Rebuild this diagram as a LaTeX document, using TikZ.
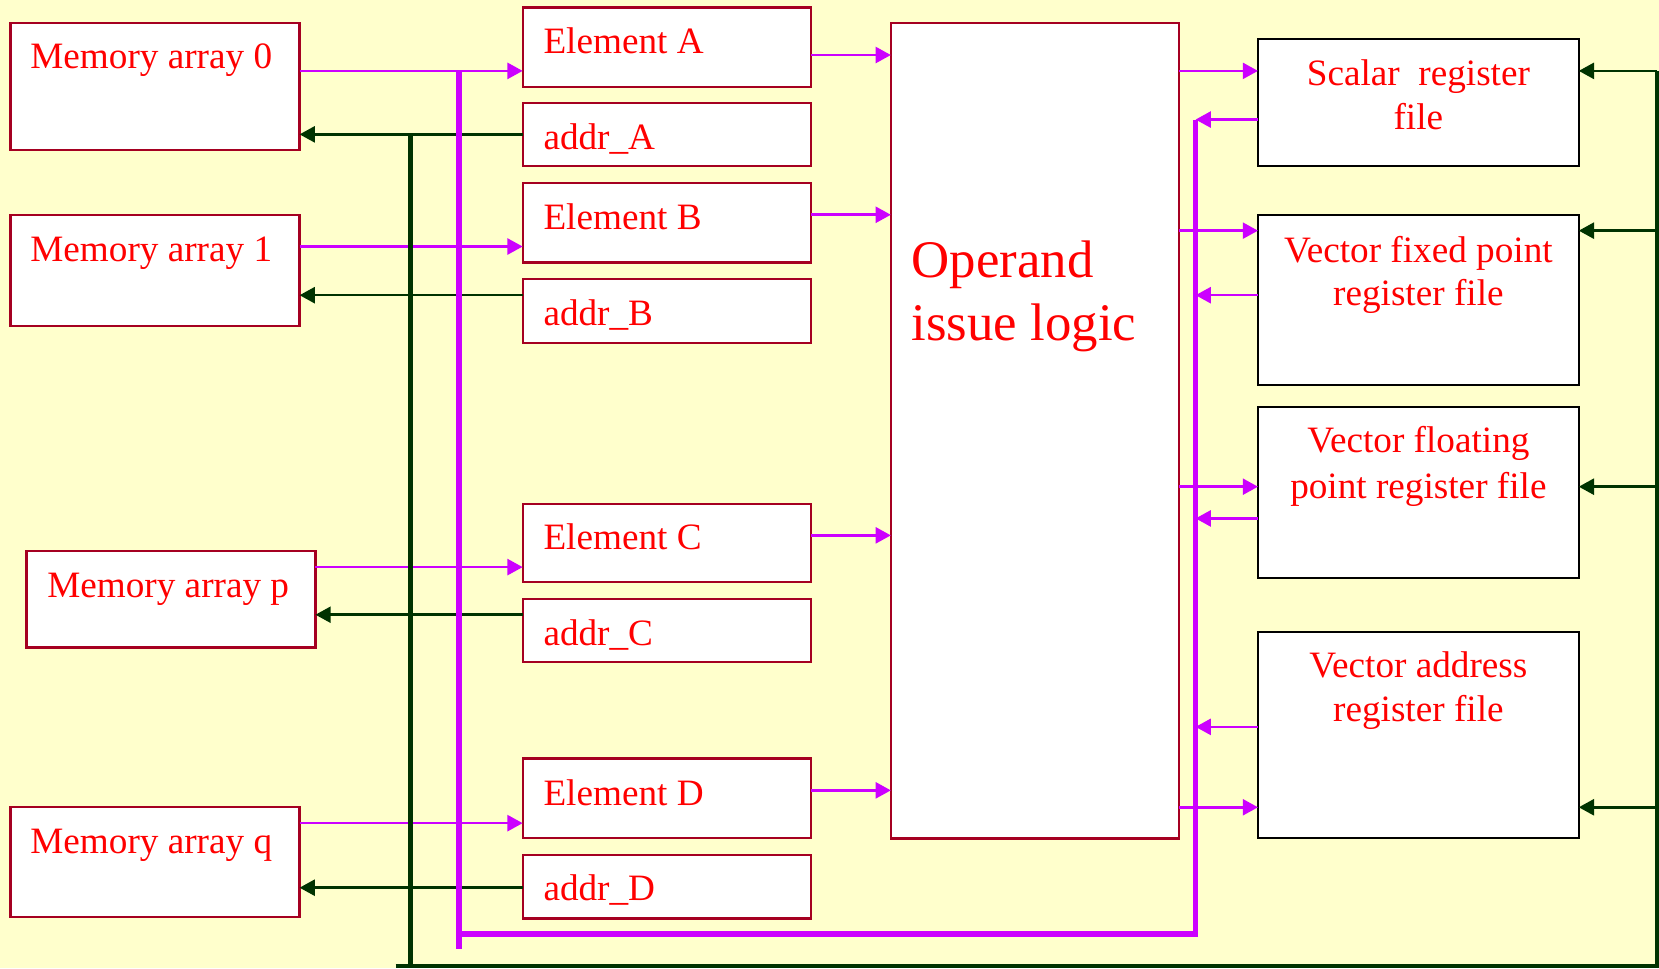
\documentclass[tikz,border=0pt]{standalone}
\usepackage{fontspec}
\setmainfont{Liberation Serif}
\usetikzlibrary{arrows.meta,calc}
\definecolor{bgc}{HTML}{FFFFCC}
\definecolor{bred}{HTML}{A50021}
\definecolor{magc}{HTML}{CC00FF}
\definecolor{grnc}{HTML}{003300}
\definecolor{txtc}{HTML}{FF0000}
\tikzset{
  box/.style={draw=bred, line width=0.6pt, fill=white, anchor=north west, inner sep=0pt, outer sep=0pt},
  rbox/.style={draw=black, line width=0.6pt, fill=white, anchor=north west, inner sep=0pt, outer sep=0pt},
  txt/.style={text=txtc, font=\fontsize{10}{12}\selectfont, inner sep=0pt},
  bigtxt/.style={text=txtc, font=\fontsize{14.2}{17}\selectfont, inner sep=0pt},
  mag/.style={draw=magc, line width=0.7pt},
  magbus/.style={draw=magc, line width=1.5pt},
  grn/.style={draw=grnc, line width=0.7pt},
  grnbus/.style={draw=grnc, line width=1.25pt},
  tip/.style={-{Triangle[length=4.1pt,width=4.3pt]}},
}
\begin{document}
\begin{tikzpicture}[x=0.01cm,y=-0.01cm]
\useasboundingbox (0,0) rectangle (1568,915);
\fill[bgc] (0,0) rectangle (1568,915);

% memory arrays
\node[box, minimum width=2.73cm, minimum height=1.20cm] (m0) at (10,22) {};
\node[box, minimum width=2.73cm, minimum height=1.05cm] (m1) at (10,203) {};
\node[box, minimum width=2.73cm, minimum height=0.91cm] (mp) at (25,521) {};
\node[box, minimum width=2.73cm, minimum height=1.04cm] (mq) at (10,763) {};
\node[txt, anchor=base west] (m0t) at ($(m0.north west)+(18,43)$) {Memory array 0};
\node[txt, anchor=base west] (m1t) at ($(m1.north west)+(18,44)$) {Memory array 1};
\node[txt, anchor=base west] (mpt) at ($(mp.north west)+(19,44)$) {Memory array p};
\node[txt, anchor=base west] (mqt) at ($(mq.north west)+(18,44)$) {Memory array q};

% elements and addresses
\node[box, minimum width=2.72cm, minimum height=0.75cm] (elA) at (494,7) {};
\node[box, minimum width=2.72cm, minimum height=0.60cm] (adA) at (494,97) {};
\node[box, minimum width=2.72cm, minimum height=0.75cm] (elB) at (494,173) {};
\node[box, minimum width=2.72cm, minimum height=0.60cm] (adB) at (494,264) {};
\node[box, minimum width=2.72cm, minimum height=0.74cm] (elC) at (494,476) {};
\node[box, minimum width=2.72cm, minimum height=0.60cm] (adC) at (494,566) {};
\node[box, minimum width=2.72cm, minimum height=0.75cm] (elD) at (494,717) {};
\node[box, minimum width=2.72cm, minimum height=0.60cm] (adD) at (494,808) {};
\node[txt, anchor=base west] (elAt) at ($(elA.north west)+(19,44)$) {Element A};
\node[txt, anchor=base west] (adAt) at ($(adA.north west)+(19,44)$) {addr\_A};
\node[txt, anchor=base west] (elBt) at ($(elB.north west)+(19,44)$) {Element B};
\node[txt, anchor=base west] (adBt) at ($(adB.north west)+(19,44)$) {addr\_B};
\node[txt, anchor=base west] (elCt) at ($(elC.north west)+(19,43)$) {Element C};
\node[txt, anchor=base west] (adCt) at ($(adC.north west)+(19,44)$) {addr\_C};
\node[txt, anchor=base west] (elDt) at ($(elD.north west)+(19,44)$) {Element D};
\node[txt, anchor=base west] (adDt) at ($(adD.north west)+(19,43)$) {addr\_D};

% operand issue logic
\node[box, minimum width=2.72cm, minimum height=7.70cm] (op) at (842,22) {};
\node[bigtxt, anchor=base west] (opt1) at ($(op.north west)+(19,240)$) {Operand};
\node[bigtxt, anchor=base west] (opt2) at ($(op.north west)+(19,300)$) {issue logic};

% register files
\node[rbox, minimum width=3.03cm, minimum height=1.20cm] (srf) at (1189,37) {};
\node[rbox, minimum width=3.03cm, minimum height=1.61cm] (vfx) at (1189,203) {};
\node[rbox, minimum width=3.03cm, minimum height=1.61cm] (vfl) at (1189,385) {};
\node[rbox, minimum width=3.03cm, minimum height=1.95cm] (var) at (1189,597) {};
\node[txt, anchor=base] (srf1) at ($(srf.north)+(0,44)$) {Scalar~\ register};
\node[txt, anchor=base] (srf2) at ($(srf.north)+(0,85)$) {file};
\node[txt, anchor=base] (vfx1) at ($(vfx.north)+(0,45)$) {Vector fixed point};
\node[txt, anchor=base] (vfx2) at ($(vfx.north)+(0,86)$) {register file};
\node[txt, anchor=base] (vfl1) at ($(vfl.north)+(0,43)$) {Vector floating};
\node[txt, anchor=base] (vfl2) at ($(vfl.north)+(0,86)$) {point register file};
\node[txt, anchor=base] (var1) at ($(var.north)+(0,43)$) {Vector address};
\node[txt, anchor=base] (var2) at ($(var.north)+(0,85)$) {register file};

% y levels
\foreach \y in {52,67,113,127,203,218,233,279,460,490,506,536,581,687,747,763,778,839}
  \coordinate (y\y) at (0,\y);

% bus corner coordinates
\coordinate (gbtop) at (388,127);
\coordinate (gbbot) at (388,913);
\coordinate (gbleft) at (374,913);
\coordinate (gbright) at (1566,913);
\coordinate (grtop) at (1566,67);
\coordinate (mbtop) at (434,67);
\coordinate (mbbot) at (434,897);
\coordinate (mbcorner) at (434,883);
\coordinate (mrcorner) at (1130,883);
\coordinate (mrtop) at (1130,113);

% memory -> element (magenta)
\draw[mag,tip] (m0.east |- y67) -- (elA.west |- y67);
\draw[mag,tip] (m1.east |- y233) -- (elB.west |- y233);
\draw[mag,tip] (mp.east |- y536) -- (elC.west |- y536);
\draw[mag,tip] (mq.east |- y778) -- (elD.west |- y778);

% addr -> memory (green)
\draw[grn,tip] (adA.west |- y127) -- (m0.east |- y127);
\draw[grn,tip] (adB.west |- y279) -- (m1.east |- y279);
\draw[grn,tip] (adC.west |- y581) -- (mp.east |- y581);
\draw[grn,tip] (adD.west |- y839) -- (mq.east |- y839);

% element -> operand
\draw[mag,tip] (elA.east |- y52) -- (op.west |- y52);
\draw[mag,tip] (elB.east |- y203) -- (op.west |- y203);
\draw[mag,tip] (elC.east |- y506) -- (op.west |- y506);
\draw[mag,tip] (elD.east |- y747) -- (op.west |- y747);

% operand -> register files
\draw[mag,tip] (op.east |- y67) -- (srf.west |- y67);
\draw[mag,tip] (op.east |- y218) -- (vfx.west |- y218);
\draw[mag,tip] (op.east |- y460) -- (vfl.west |- y460);
\draw[mag,tip] (op.east |- y763) -- (var.west |- y763);

% register files -> magenta bus
\draw[mag,tip] (srf.west |- y113) -- (mrtop |- y113);
\draw[mag,tip] (vfx.west |- y279) -- (mrtop |- y279);
\draw[mag,tip] (vfl.west |- y490) -- (mrtop |- y490);
\draw[mag,tip] (var.west |- y687) -- (mrtop |- y687);

% green bus -> register files
\draw[grn,tip] (grtop) -- (srf.east |- y67);
\draw[grn,tip] (grtop |- y218) -- (vfx.east |- y218);
\draw[grn,tip] (grtop |- y460) -- (vfl.east |- y460);
\draw[grn,tip] (grtop |- y763) -- (var.east |- y763);

% buses
\draw[magbus] (mrtop) -- (mrcorner) -- (mbcorner);
\draw[magbus] (mbtop) -- (mbbot);
\draw[grnbus] (gbtop) -- (gbbot);
\draw[grnbus] (gbleft) -- (gbright) -- (grtop);
\end{tikzpicture}
\end{document}
